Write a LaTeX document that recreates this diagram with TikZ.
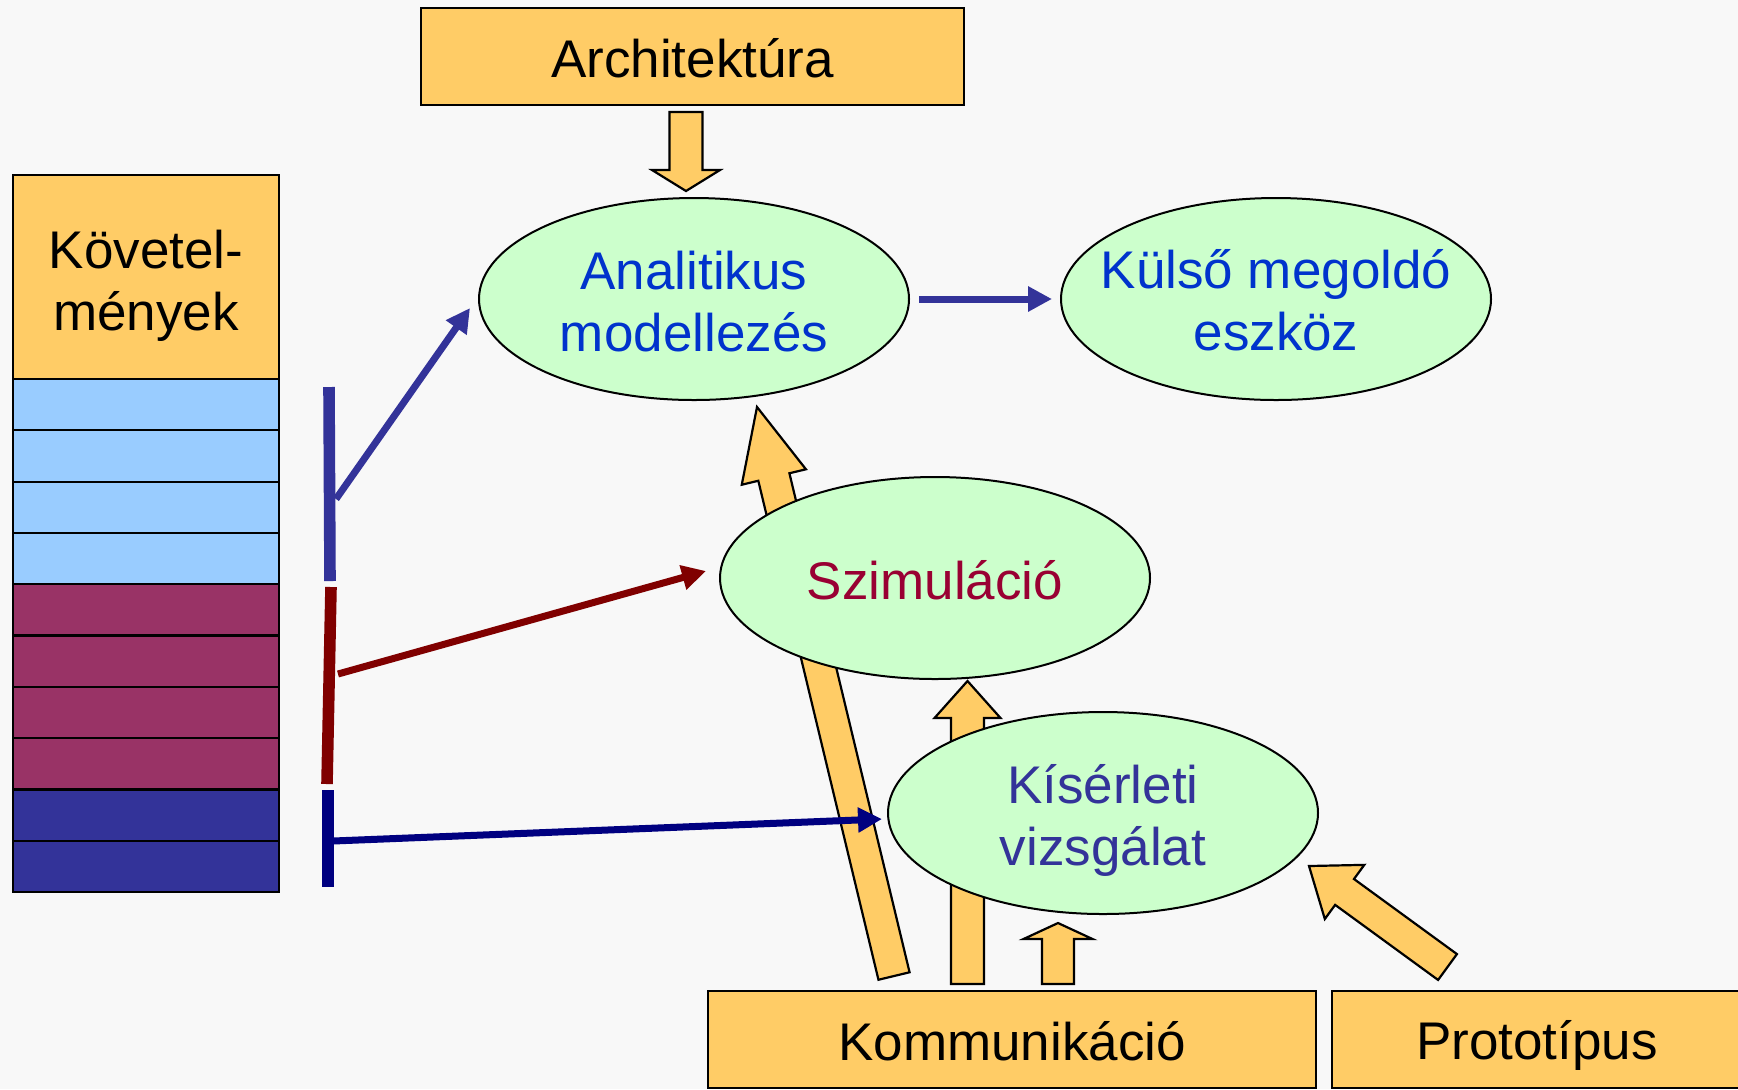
\documentclass[tikz,border=0pt]{standalone}
\usepackage{fontspec}
\setmainfont{Liberation Sans}
\usetikzlibrary{calc,shapes.geometric,arrows.meta}

\definecolor{bg}{HTML}{F8F8F8}
\definecolor{boxorange}{HTML}{FFCC66}
\definecolor{rowblue}{HTML}{99CCFF}
\definecolor{rowmaroon}{HTML}{993366}
\definecolor{rownavy}{HTML}{333399}
\definecolor{mint}{HTML}{CCFFCC}
\definecolor{txtblue}{HTML}{0033CC}
\definecolor{txtmaroon}{HTML}{990033}
\definecolor{txtnavy}{HTML}{333399}
\definecolor{barblue}{HTML}{333399}
\definecolor{barmaroon}{HTML}{800000}
\definecolor{barnavy}{HTML}{000080}

% broad outlined arrow: tail, tip, half shaft width, half head width, head length
\newcommand\blockarrow[5]{%
  \coordinate (#2h) at ($(#2)!#5!(#1)$);
  \draw[fatarrow] ($(#1)!#3!90:(#2)$)
    -- ($(#2h)!#3!90:(#2)$)
    -- ($(#2h)!#4!90:(#2)$)
    -- (#2)
    -- ($(#2h)!#4!-90:(#2)$)
    -- ($(#2h)!#3!-90:(#2)$)
    -- ($(#1)!#3!-90:(#2)$)
    -- cycle;
}

\begin{document}
\begin{tikzpicture}[x=0.5pt,y=-0.5pt,
  font=\fontsize{26.5}{31}\selectfont,
  labelbox/.style={draw=black, line width=1.2pt, fill=boxorange, inner sep=0pt},
  bubble/.style={ellipse, draw=black, line width=1pt, fill=mint,
    minimum width=215pt, minimum height=101pt, inner sep=0pt},
  caption/.style={align=center, inner sep=0pt},
  fatarrow/.style={draw=black, line width=1.1pt, fill=boxorange, line join=miter},
  bar/.style={line width=5.8pt},
  link/.style={line width=3.5pt, -{Triangle[length=12pt,width=12pt]}},
  row/.style={draw=black, line width=1.1pt}
]
\fill[bg] (0,0) rectangle (1738,1089);
\useasboundingbox (0,0) rectangle (1738,1089);

% source boxes
\node[labelbox, minimum width=271.5pt, minimum height=48.5pt,
  label={[caption, yshift=-1pt]center:Architektúra}] (arch) at (692.5,56.5) {};
\node[labelbox, minimum width=304pt, minimum height=48.5pt,
  label={[caption, yshift=-1pt]center:Kommunikáció}] (komm) at (1012,1039.5) {};
\node[labelbox, minimum width=205pt, minimum height=48.5pt,
  label={[caption, yshift=-3.2pt]center:Prototípus}] (proto) at (1537,1039.5) {};

% requirements column
\node[labelbox, minimum width=133pt, minimum height=102pt,
  label={[caption, yshift=-4.5pt]center:{Követel-\\mények}}] (kov) at (146,277) {};
\foreach \i/\c in {0/rowblue,1/rowblue,2/rowblue,3/rowblue,
                   4/rowmaroon,5/rowmaroon,6/rowmaroon,7/rowmaroon,
                   8/rownavy,9/rownavy}
  \draw[row, fill=\c] (13,{379+51.3*\i}) rectangle (279,{379+51.3*(\i+1)});

% broad arrows
\coordinate (archT) at (686,112);   \coordinate (archH) at (686,191);
\coordinate (longT) at (894,976);   \coordinate (longH) at (757,407);
\coordinate (szimT) at (967.5,984); \coordinate (szimH) at (967.5,681);
\coordinate (kisT) at (1058,984);   \coordinate (kisH) at (1058,923);
\coordinate (protT) at (1447.5,967);\coordinate (protH) at (1309,866);
\blockarrow{archT}{archH}{8.25pt}{17pt}{10.5pt}
\blockarrow{longT}{longH}{8pt}{16.5pt}{36pt}
\blockarrow{szimT}{szimH}{8.25pt}{16.5pt}{18.5pt}
\blockarrow{kisT}{kisH}{8pt}{17.25pt}{8pt}
\blockarrow{protT}{protH}{8pt}{16.75pt}{22pt}

% activities
\node[bubble, label={[caption, text=txtblue, yshift=-1.5pt]center:{Analitikus\\modellezés}}]
  (analit) at (694,299) {};
\node[bubble, label={[caption, text=txtblue, yshift=-0.8pt]center:{Külső megoldó\\eszköz}}]
  (kulso) at (1276,299) {};
\node[bubble, label={[caption, text=txtmaroon, yshift=-1pt]center:Szimuláció}]
  (szim) at (935,578) {};
\node[bubble, label={[caption, text=txtnavy, yshift=-3.5pt]center:{Kísérleti\\vizsgálat}}]
  (kiserl) at (1103,813) {};

% group brackets
\coordinate (bb1) at (329,387); \coordinate (bb2) at (330,581);
\coordinate (mb1) at (331,587); \coordinate (mb2) at (327,784);
\coordinate (nb1) at (328,790); \coordinate (nb2) at (328,887);
\draw[bar, barblue] (bb1) -- (bb2);
\draw[bar, barmaroon] (mb1) -- (mb2);
\draw[bar, barnavy] (nb1) -- (nb2);

% links from groups to activities
\coordinate (bS) at (336,499); \coordinate (bE) at (470,308);
\coordinate (mS) at (338,674); \coordinate (mE) at (706,571);
\coordinate (nS) at (333,841); \coordinate (nE) at (882,819);
\draw[link, barblue] (bS) -- (bE);
\draw[link, barmaroon] (mS) -- (mE);
\draw[link, barnavy] (nS) -- (nE);
\draw[link, barblue, shorten <=4.5pt, shorten >=4pt] (analit.east) -- (kulso.west);
\end{tikzpicture}
\end{document}
